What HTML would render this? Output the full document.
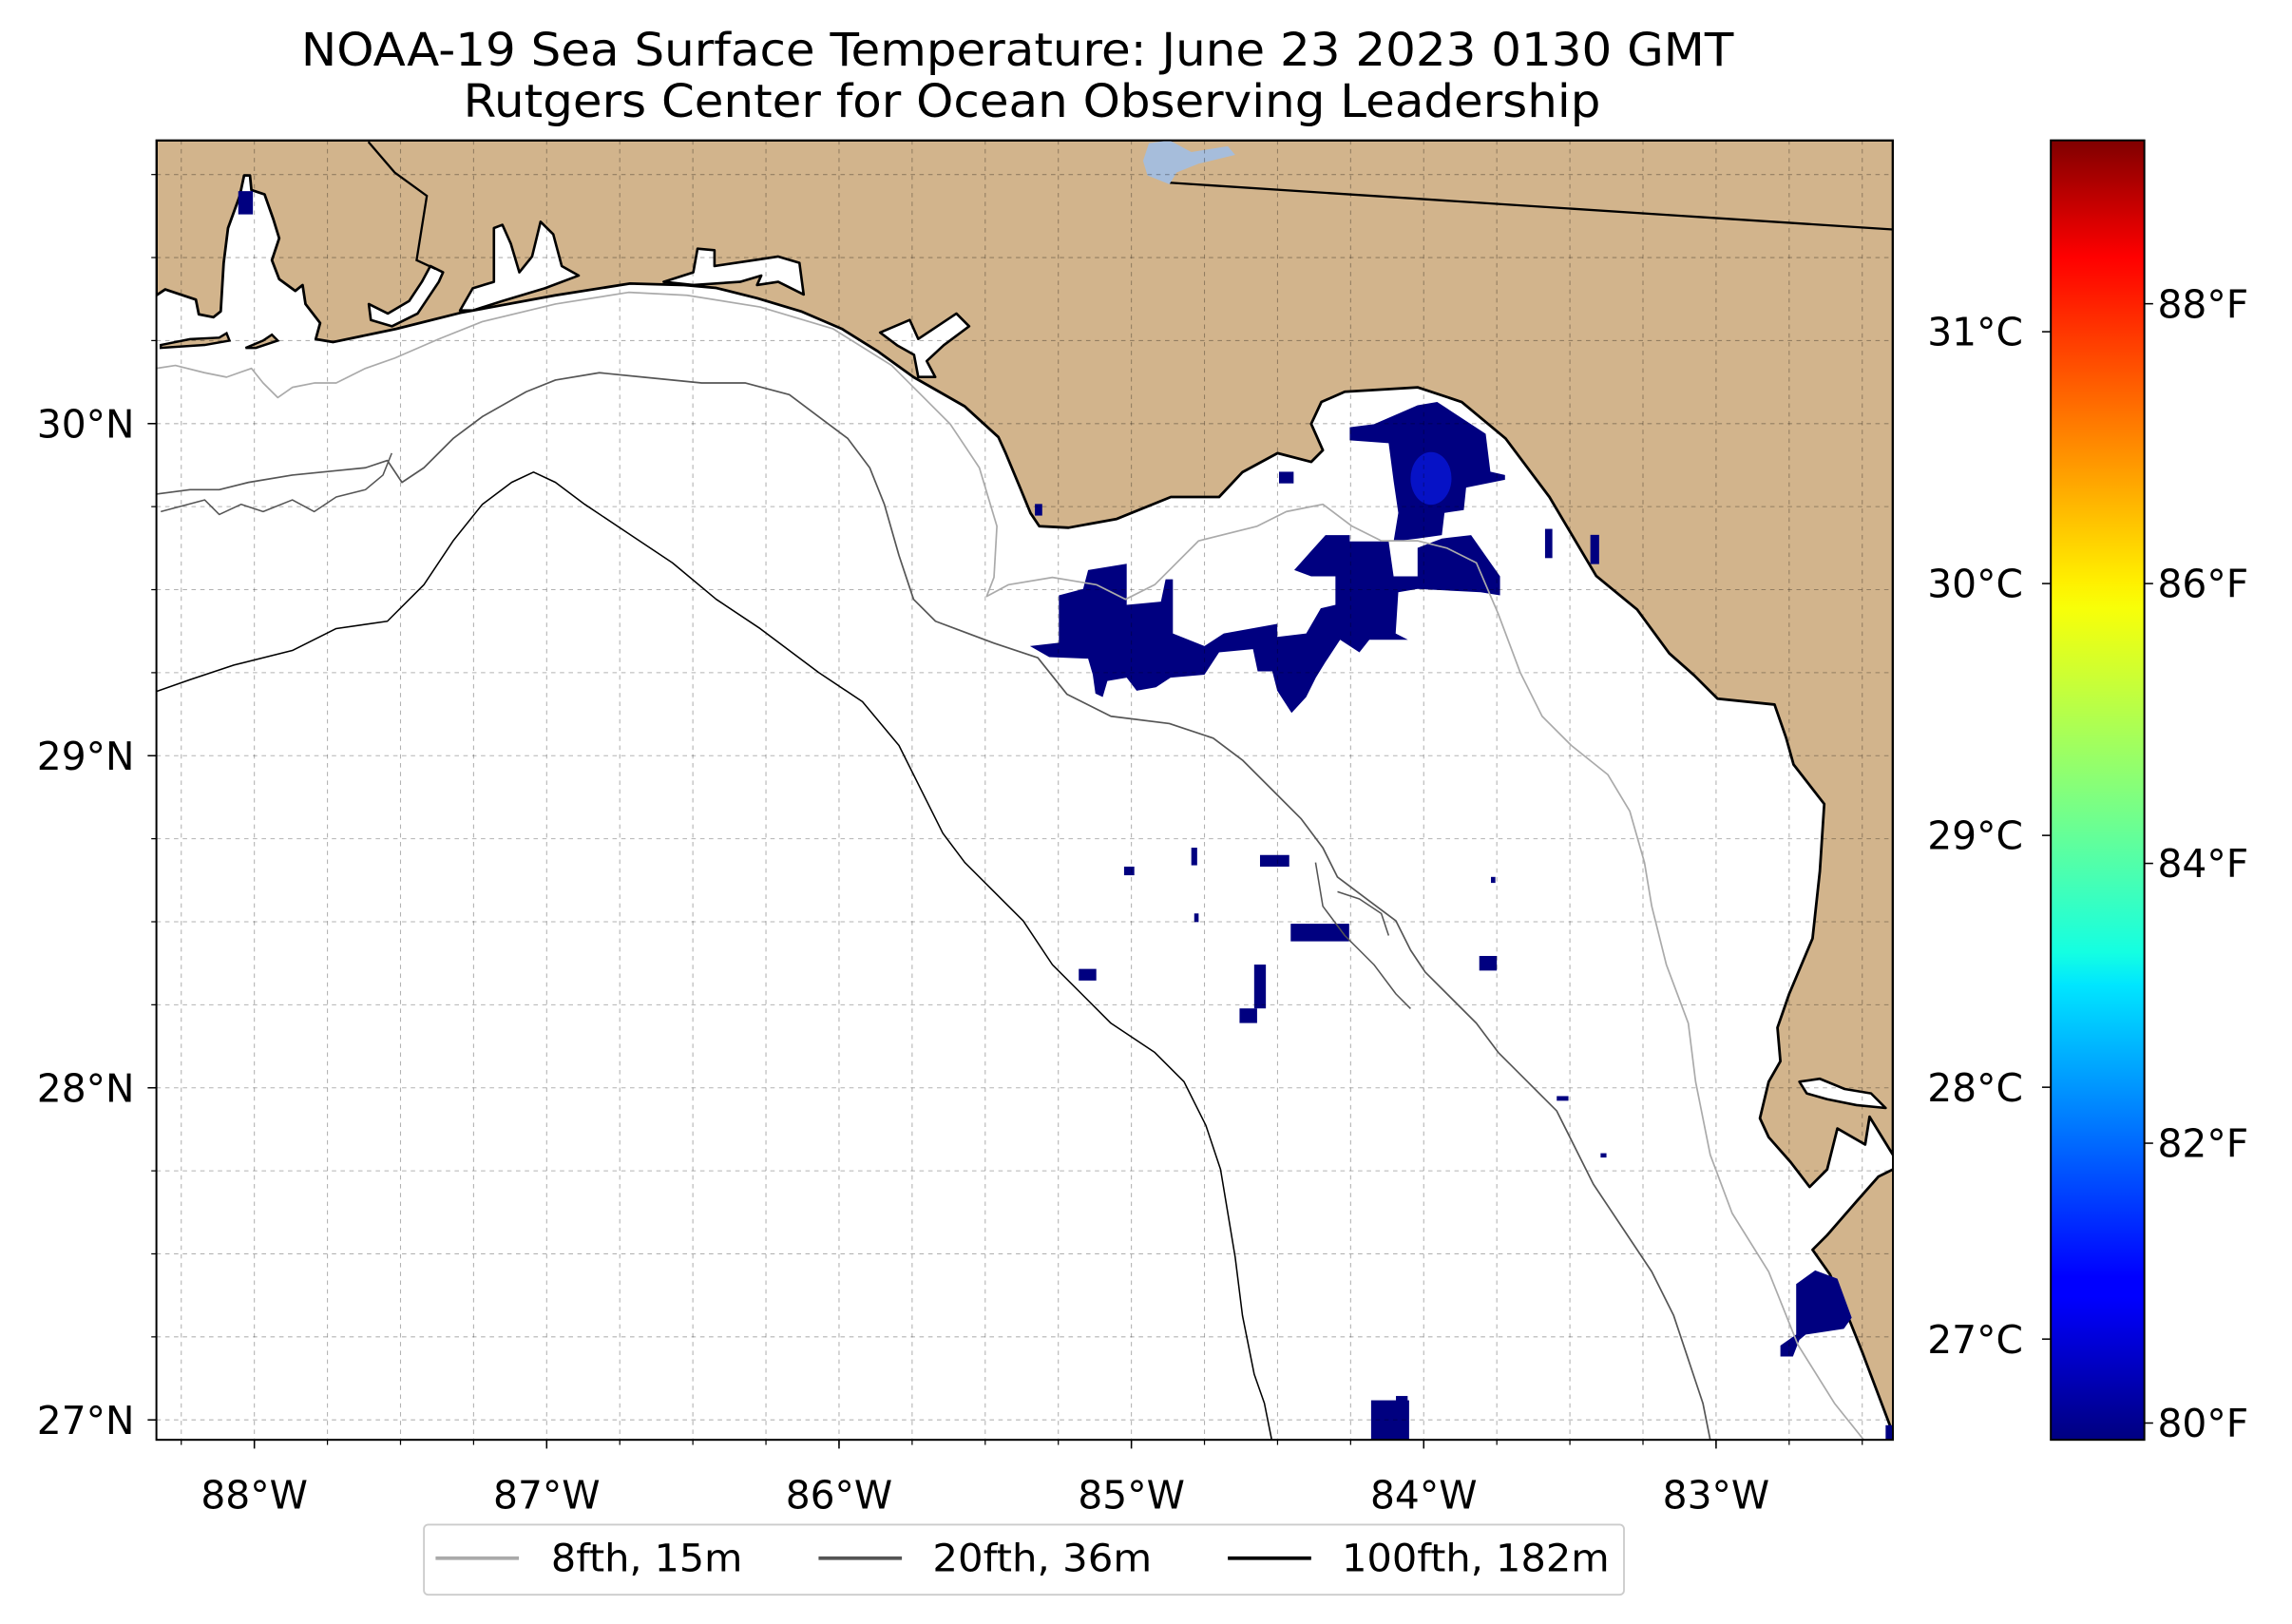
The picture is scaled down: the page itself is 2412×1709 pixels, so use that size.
<!DOCTYPE html>
<html><head><meta charset="utf-8">
<style>
html,body{margin:0;padding:0;background:#fff;}
svg{display:block;font-family:"DejaVu Sans","Liberation Sans",sans-serif;}
</style></head>
<body>
<svg id="chart" width="2412" height="1709" viewBox="0 0 1568 1111" xmlns="http://www.w3.org/2000/svg">
<defs>
<clipPath id="plotclip"><rect x="107" y="96" width="1188" height="889"/></clipPath>
<linearGradient id="jet" x1="0" y1="1" x2="0" y2="0">
<stop offset="0" stop-color="#000080"/><stop offset="0.11" stop-color="#0000ff"/><stop offset="0.125" stop-color="#0000ff"/>
<stop offset="0.35" stop-color="#00e6ff"/><stop offset="0.375" stop-color="#14ffe2"/><stop offset="0.5" stop-color="#84ff7b"/>
<stop offset="0.64" stop-color="#f8ff08"/><stop offset="0.66" stop-color="#fff000"/><stop offset="0.89" stop-color="#ff1200"/>
<stop offset="0.91" stop-color="#ff0000"/><stop offset="1" stop-color="#800000"/>
</linearGradient>
</defs>
<text x="696" y="45" font-size="31" text-anchor="middle" textLength="980" lengthAdjust="spacingAndGlyphs">NOAA-19 Sea Surface Temperature: June 23 2023 0130 GMT</text>
<text x="706" y="80" font-size="31" text-anchor="middle" textLength="778" lengthAdjust="spacingAndGlyphs">Rutgers Center for Ocean Observing Leadership</text>
<g id="plot" clip-path="url(#plotclip)">
<rect x="107" y="96" width="1188" height="889" fill="#fff"/>
<path fill="#d2b48c" stroke="#000" stroke-width="1.8" stroke-linejoin="round"
d="M107,96 L1295,96 L1295,790 L1279,764 L1276,783 L1257,772 L1250,800 L1238,812 L1225,795 L1210,778 L1204,765 L1210,740 L1218,726 L1216,703 L1224,680 L1240,642 L1245,596 L1248,550 L1227,523 L1222,505 L1214,482 L1175,478 L1159,462 L1142,447 L1120,417 L1092,394 L1060,340 L1030,300 L1000,275 L970,265 L920,268 L904,275 L897,290 L905,308 L897,316 L874,310 L850,323 L834,340 L801,340 L764,355 L731,361 L711,360 L705,351 L698,334 L688,310 L683,299 L660,278 L625,258 L600,240 L576,225 L548,213 L518,204 L490,197 L468,195 L431,194 L380,202 L315,214 L271,225 L228,234 L216,232 L219,221 L209,208 L207,195 L202,199 L191,191 L186,178 L191,163 L187,150 L181,133 L172,130 L171,120 L167,120 L164,134 L156,156 L153,180 L151,213 L146,217 L136,215 L134,205 L113,198 L107,202 Z"/>
<path fill="#d2b48c" stroke="#000" stroke-width="1.8" stroke-linejoin="round"
d="M1295,800 L1285,805 L1270,822 L1250,845 L1240,855 L1252,872 L1266,905 L1274,925 L1294,978 L1300,990 L1300,800 Z"/>
<path fill="#d2b48c" stroke="#000" stroke-width="1.6" d="M110,236 L130,232 L150,231 L155,228 L157,233 L140,236 L110,238 Z"/>
<path fill="#d2b48c" stroke="#000" stroke-width="1.6" d="M168,238 L180,233 L186,229 L190,233 L175,238 Z"/>
<g fill="#fff" stroke="#000" stroke-width="1.7" stroke-linejoin="round">
<path d="M253.7,218.9 L268.2,223.2 L285.7,214.5 L300.2,192.8 L303.1,186.3 L294.4,182 L288.6,192.8 L279.9,205.9 L265.3,214.5 L252.3,208 Z"/>
<path d="M314.7,212.4 L323.4,197.2 L337.9,192.8 L337.9,156 L343.7,153.8 L349.5,166.8 L355.3,186.3 L364,175.5 L369.8,151.7 L378.5,160.3 L384.3,182 L395.9,188.5 L372.7,197.2 L343.7,205.9 L323.4,212.4 Z"/>
<path d="M454,192.8 L474.3,186.3 L477.2,170.1 L488.8,171.2 L488.8,182 L517.9,177.7 L532.4,175.5 L546.9,179.8 L549.8,201.5 L532.4,192.8 L517.9,195 L520.8,188.5 L506.3,192.8 L474.3,195 Z"/>
<path d="M602.1,227.5 L622.4,218.9 L628.2,231.9 L654.3,214.5 L663,223.2 L645.6,236.2 L634,247 L639.8,257.9 L628.2,257.9 L625.3,242.7 L613.7,236.2 Z"/>
<path d="M1231,740 L1245,738 L1262,745 L1280,748 L1290,758 L1270,756 L1250,752 L1236,748 Z"/>
</g>
<path d="M252,97 L270,118 L292,134 L285,178 L298,184" fill="none" stroke="#000" stroke-width="1.5"/>
<path d="M800,125 L1295,157" fill="none" stroke="#000" stroke-width="1.5"/>
<path d="M786,98 L800,96 L815,104 L840,100 L845,106 L820,112 L805,118 L800,126 L785,120 L782,110 Z" fill="#a6bddb"/>
<g id="sst"></g>
<g id="grid"></g>
<g fill="none" stroke-linejoin="round">
<path stroke="#aaa" stroke-width="1.1" d="M107,252 L120,250 L140,255 L155,258 L172,252 L180,262 L190,272 L200,265 L215,262 L230,262 L250,252 L270,245 L300,232 L330,220 L380,208 L430,200 L470,202 L520,210 L570,225 L610,250 L630,270 L650,290 L670,320 L682,360 L680,395 L675,408 L690,400 L720,395 L750,400 L770,410 L790,400 L800,390 L820,370 L860,360 L880,350 L905,345 L925,360 L945,370 L970,370 L990,375 L1010,385 L1025,420 L1040,460 L1055,490 L1075,510 L1100,530 L1115,555 L1125,590 L1130,620 L1140,660 L1155,700 L1160,740 L1170,790 L1185,830 L1210,870 L1230,920 L1255,960 L1275,985"/>
<path stroke="#555" stroke-width="1.1" d="M107,338 L130,335 L150,335 L170,330 L200,325 L230,322 L250,320 L265,315 L275,330 L290,320 L310,300 L330,285 L360,268 L380,260 L410,255 L440,258 L480,262 L510,262 L540,270 L560,285 L580,300 L595,320 L605,345 L615,380 L625,410 L640,425 L680,440 L710,450 L730,475 L760,490 L800,495 L830,505 L850,520 L870,540 L890,560 L905,580 L915,600 L935,615 L955,630 L965,650 L975,665 L990,680 L1010,700 L1025,720 L1045,740 L1065,760 L1080,790 L1090,810 L1110,840 L1130,870 L1145,900 L1155,930 L1165,960 L1170,985"/>
<path stroke="#555" stroke-width="1" d="M110,350 L140,342 L150,352 L165,345 L180,350 L200,342 L215,350 L230,340 L250,335 L262,325 L268,310 M900,590 L905,620 L920,640 L940,660 L955,680 L965,690 M915,610 L930,615 L945,625 L950,640"/>
<path stroke="#000" stroke-width="1" d="M107,473 L130,465 L160,455 L200,445 L230,430 L265,425 L290,400 L310,370 L330,345 L350,330 L365,323 L380,330 L400,345 L430,365 L460,385 L490,410 L520,430 L560,460 L590,480 L615,510 L630,540 L645,570 L660,590 L680,610 L700,630 L720,660 L740,680 L760,700 L790,720 L810,740 L825,770 L835,800 L840,830 L845,860 L850,900 L858,940 L865,960 L870,985"/>
</g>
</g>
<rect x="107" y="96" width="1188" height="889" fill="none" stroke="#000" stroke-width="1.3"/>
<g id="axes"></g>
<rect x="1403" y="96" width="64" height="889" fill="url(#jet)" stroke="#000" stroke-width="1.3"/>
<g id="cbaxes"></g>
<g>
<rect x="290" y="1043" width="821" height="48" rx="3" fill="#fff" stroke="#ccc" stroke-width="1.2"/>
<g><line x1="298" y1="1066" x2="355" y2="1066" stroke="#aaa" stroke-width="2.4"/><text x="377" y="1075" font-size="26" textLength="131" lengthAdjust="spacingAndGlyphs">8fth, 15m</text></g>
<g><line x1="560" y1="1066" x2="617" y2="1066" stroke="#555" stroke-width="2.4"/><text x="638" y="1075" font-size="26" textLength="150" lengthAdjust="spacingAndGlyphs">20fth, 36m</text></g>
<g><line x1="840" y1="1066" x2="897" y2="1066" stroke="#000" stroke-width="2.4"/><text x="918" y="1075" font-size="26" textLength="183" lengthAdjust="spacingAndGlyphs">100fth, 182m</text></g>
</g>
</svg>
<script>
const lonTicks = [-88, -87, -86, -85, -84, -83];
const lonTickLabels = ["88°W", "87°W", "86°W", "85°W", "84°W", "83°W"];
const latTicks = [27, 28, 29, 30];
const latTickLabels = ["27°N", "28°N", "29°N", "30°N"];
const cbCelsius = [27, 28, 29, 30, 31];
const cbCelsiusLabels = ["27°C", "28°C", "29°C", "30°C", "31°C"];
const cbFahrenheit = [80, 82, 84, 86, 88];
const cbFahrenheitLabels = ["80°F", "82°F", "84°F", "86°F", "88°F"];
const lonRange = [-88.335, -82.395];
const latRange = [26.94, 30.853];
const cbRange = [26.6, 31.76];
const sstBlobWest = [[-85.148,29.559],[-85.016,29.578],[-85.016,29.454],[-84.899,29.464],[-84.883,29.531],[-84.858,29.531],[-84.858,29.368],[-84.750,29.330],[-84.684,29.368],[-84.501,29.397],[-84.501,29.358],[-84.402,29.368],[-84.352,29.444],[-84.302,29.454],[-84.302,29.540],[-84.385,29.540],[-84.443,29.559],[-84.385,29.616],[-84.336,29.664],[-84.253,29.664],[-84.253,29.645],[-84.120,29.645],[-84.103,29.540],[-84.021,29.540],[-84.021,29.626],[-83.938,29.654],[-83.838,29.664],[-83.739,29.540],[-83.739,29.483],[-83.805,29.492],[-84.021,29.502],[-84.087,29.492],[-84.096,29.368],[-84.054,29.349],[-84.186,29.349],[-84.220,29.311],[-84.286,29.349],[-84.336,29.282],[-84.369,29.235],[-84.402,29.177],[-84.452,29.129],[-84.501,29.196],[-84.518,29.254],[-84.568,29.254],[-84.584,29.321],[-84.700,29.311],[-84.750,29.244],[-84.866,29.235],[-84.916,29.206],[-84.982,29.196],[-85.016,29.235],[-85.082,29.225],[-85.098,29.177],[-85.123,29.187],[-85.132,29.244],[-85.148,29.292],[-85.281,29.297],[-85.347,29.330],[-85.248,29.340],[-85.248,29.483],[-85.165,29.502]];
const sstBlobNorth = [[-84.253,29.989],[-84.170,29.998],[-84.021,30.055],[-83.954,30.065],[-83.921,30.046],[-83.788,29.969],[-83.772,29.855],[-83.722,29.845],[-83.722,29.831],[-83.855,29.807],[-83.863,29.740],[-83.929,29.731],[-83.938,29.664],[-84.021,29.654],[-84.103,29.645],[-84.087,29.731],[-84.103,29.827],[-84.120,29.941],[-84.253,29.950]];
const sstBlobTampa = [[-82.726,27.409],[-82.661,27.450],[-82.585,27.425],[-82.536,27.308],[-82.563,27.274],[-82.693,27.257],[-82.715,27.241],[-82.737,27.191],[-82.780,27.191],[-82.780,27.224],[-82.726,27.257]];
const sstSmallPatches = [[-88.055,30.700,-88.005,30.630],[-83.585,29.683,-83.560,29.595],[-83.430,29.665,-83.400,29.577],[-84.495,29.855,-84.445,29.820],[-85.330,29.758,-85.305,29.723],[-85.025,28.666,-84.990,28.640],[-84.795,28.723,-84.775,28.670],[-84.560,28.701,-84.460,28.666],[-83.770,28.635,-83.755,28.617],[-84.785,28.525,-84.770,28.499],[-84.455,28.494,-84.255,28.441],[-83.810,28.397,-83.750,28.353],[-85.180,28.358,-85.120,28.323],[-84.580,28.371,-84.540,28.239],[-84.630,28.239,-84.570,28.195],[-83.545,27.975,-83.505,27.961],[-83.395,27.803,-83.375,27.790],[-84.180,27.059,-84.050,26.940],[-84.095,27.072,-84.055,27.028],[-82.420,26.984,-82.390,26.940]];
const sstWarmSpot = [-83.975, 29.835];

const PX0=107, PX1=1295, PY0=96, PY1=985, CBY0=96, CBY1=985;
const NS="http://www.w3.org/2000/svg";
function xOf(lon){return PX0+(lon-lonRange[0])/(lonRange[1]-lonRange[0])*(PX1-PX0);}
function yOf(lat){return PY1-(lat-latRange[0])/(latRange[1]-latRange[0])*(PY1-PY0);}
function cbY(c){return CBY1-(c-cbRange[0])/(cbRange[1]-cbRange[0])*(CBY1-CBY0);}
function mk(tag,attrs,parent){const e=document.createElementNS(NS,tag);for(const k in attrs)e.setAttribute(k,attrs[k]);parent.appendChild(e);return e;}

const sst=document.getElementById('sst');
[sstBlobWest,sstBlobNorth,sstBlobTampa].forEach(function(poly){
  const p=mk('polygon',{points:poly.map(function(q){return xOf(q[0]).toFixed(1)+','+yOf(q[1]).toFixed(1);}).join(' '),fill:'#000080'},sst);
  
  
});
sstSmallPatches.forEach(function(r){
  const e=mk('rect',{x:xOf(r[0]),y:yOf(r[1]),width:xOf(r[2])-xOf(r[0]),height:yOf(r[3])-yOf(r[1]),fill:'#000080'},sst);
  
  
});
const ws=mk('ellipse',{cx:xOf(sstWarmSpot[0]),cy:yOf(sstWarmSpot[1]),rx:14,ry:18,fill:'#0a1ef5',opacity:0.6},sst);



const grid=document.getElementById('grid');
const axes=document.getElementById('axes');
for(let lon=-88.25;lon<=-82.45;lon+=0.25){
  const x=xOf(lon);
  const g=mk('line',{x1:x,y1:PY0,x2:x,y2:PY1,stroke:'#000','stroke-opacity':0.3,'stroke-width':0.7,'stroke-dasharray':'3,3'},grid);
  
  
  const t=mk('line',{x1:x,y1:PY1,x2:x,y2:PY1+3.5,stroke:'#000','stroke-width':0.8},axes);
  
  
}
for(let lat=27;lat<=30.8;lat+=0.25){
  const y=yOf(lat);
  const g=mk('line',{x1:PX0,y1:y,x2:PX1,y2:y,stroke:'#000','stroke-opacity':0.3,'stroke-width':0.7,'stroke-dasharray':'3,3'},grid);
  
  
  const t=mk('line',{x1:PX0-3.5,y1:y,x2:PX0,y2:y,stroke:'#000','stroke-width':0.8},axes);
  
  
}
lonTicks.forEach(function(v,i){
  const x=xOf(v);
  const t=mk('line',{x1:x,y1:PY1,x2:x,y2:PY1+6,stroke:'#000','stroke-width':1},axes);
  
  
  const l=mk('text',{x:x,y:PY1+47,'font-size':26.5,'text-anchor':'middle'},axes);
  l.textContent=lonTickLabels[i];
  
  
});
latTicks.forEach(function(v,i){
  const y=yOf(v);
  const t=mk('line',{x1:PX0-6,y1:y,x2:PX0,y2:y,stroke:'#000','stroke-width':1},axes);
  
  
  const l=mk('text',{x:PX0-15,y:y+9.5,'font-size':26.5,'text-anchor':'end'},axes);
  l.textContent=latTickLabels[i];
  
  
});
const cb=document.getElementById('cbaxes');
cbCelsius.forEach(function(c,i){
  const y=cbY(c);
  const t=mk('line',{x1:1397,y1:y,x2:1403,y2:y,stroke:'#000','stroke-width':1},cb);
  
  
  const l=mk('text',{x:1384,y:y+9.5,'font-size':26.5,'text-anchor':'end'},cb);
  l.textContent=cbCelsiusLabels[i];
  
  
});
cbFahrenheit.forEach(function(f,i){
  const y=cbY((f-32)*5/9);
  const t=mk('line',{x1:1467,y1:y,x2:1473,y2:y,stroke:'#000','stroke-width':1},cb);
  
  
  const l=mk('text',{x:1476,y:y+9.5,'font-size':26.5,'text-anchor':'start'},cb);
  l.textContent=cbFahrenheitLabels[i];
  
  
});
</script>
</body></html>
